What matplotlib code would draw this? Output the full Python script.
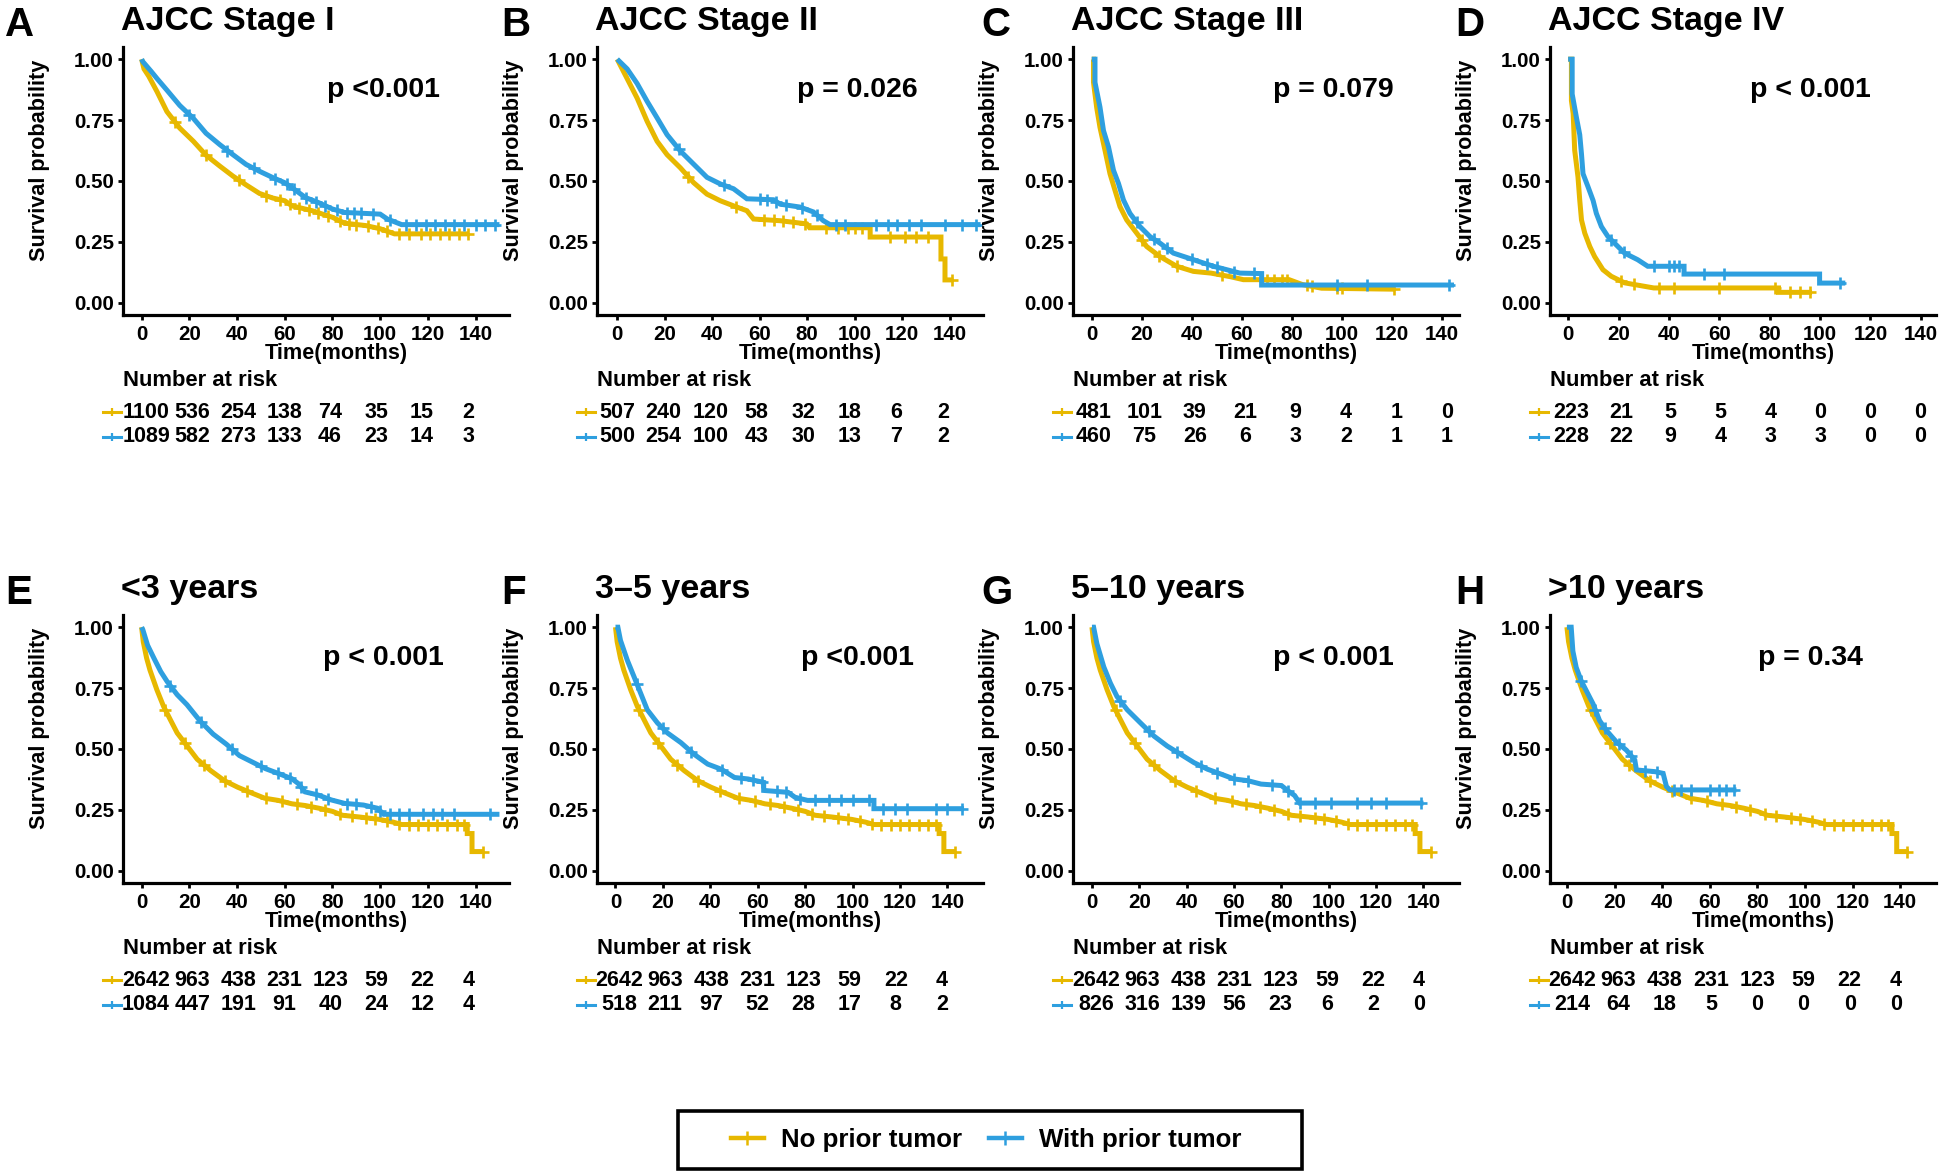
import numpy as np
import matplotlib
matplotlib.use("Agg")
import matplotlib.pyplot as plt
from matplotlib.lines import Line2D
from matplotlib.patches import Rectangle

plt.rcParams['font.family'] = ['Liberation Sans', 'DejaVu Sans']
plt.rcParams['font.weight'] = 'bold'
plt.rcParams['axes.labelweight'] = 'bold'

YELLOW = "#E7B800"
BLUE = "#2E9FDF"

# ---- data (time in months, survival probability) ----
# A: AJCC Stage I
A_t_no = [0, 1, 3, 6.5, 10.6, 16, 21.7, 27, 32.8, 38.3, 43.8, 49.4, 55, 60, 63, 71.5, 80, 85, 94, 100, 106, 137]
A_s_no = [1, 0.96, 0.93, 0.866, 0.785, 0.717, 0.663, 0.606, 0.561, 0.52, 0.484, 0.449, 0.43, 0.419, 0.398, 0.378, 0.351, 0.327, 0.317, 0.304, 0.283, 0.283]
A_c_no = [14, 27, 41, 52, 58, 62, 66, 70, 74, 78, 83, 87, 90, 95, 99, 103, 108, 112, 117, 121, 125, 129, 133, 137]
A_t_pr = [0, 0.5, 4, 6.5, 10.6, 16, 21.7, 27, 32.8, 38.3, 43.8, 49.4, 55, 60, 63, 68.7, 74, 80, 85, 100, 103, 109, 150]
A_s_pr = [1, 0.99, 0.95, 0.92, 0.873, 0.81, 0.757, 0.696, 0.649, 0.608, 0.568, 0.54, 0.514, 0.493, 0.473, 0.432, 0.412, 0.385, 0.371, 0.364, 0.344, 0.321, 0.321]
A_c_pr = [20, 36, 47, 56, 61, 64, 69, 73, 77, 82, 86, 89, 92, 97, 104, 111, 115, 119, 123, 127, 131, 135, 140, 144, 148]

# B: AJCC Stage II
B_t_no = [0, 4.2, 8.4, 12.6, 16.8, 21, 26.6, 32.2, 37.8, 43.4, 49, 54.6, 57.4, 68.6, 79.8, 81, 106.5, 106.5, 136.3, 136.3, 138, 138, 141.5]
B_s_no = [1, 0.92, 0.84, 0.745, 0.663, 0.608, 0.554, 0.493, 0.446, 0.419, 0.398, 0.378, 0.344, 0.337, 0.324, 0.308, 0.308, 0.27, 0.27, 0.18, 0.18, 0.094, 0.094]
B_c_no = [30, 50, 62, 66, 70, 74, 79, 88, 93, 97, 100, 103, 115, 121, 126, 131, 141]
B_t_pr = [0, 4.2, 8.4, 12.6, 16.8, 21, 26.6, 32.2, 37.8, 43.4, 49, 54.6, 65.8, 68.6, 77, 82.6, 86.8, 89.6, 153]
B_s_pr = [1, 0.96, 0.9, 0.827, 0.759, 0.69, 0.623, 0.569, 0.515, 0.488, 0.468, 0.427, 0.423, 0.405, 0.393, 0.373, 0.337, 0.321, 0.321]
B_c_pr = [26, 45, 60, 63, 67, 71, 78, 84, 92, 96, 109, 114, 118, 123, 128, 138, 145, 151]

# C: AJCC Stage III
C_t_no = [0, 0.7, 0.7, 2, 3.3, 5.3, 7.3, 9.3, 11.3, 14, 18, 22, 27.3, 34, 40.7, 47.7, 55.6, 60.7, 66, 79, 84.3, 92, 121]
C_s_no = [1, 1, 0.905, 0.8, 0.72, 0.626, 0.53, 0.462, 0.395, 0.34, 0.286, 0.231, 0.19, 0.15, 0.129, 0.122, 0.107, 0.095, 0.095, 0.095, 0.075, 0.06, 0.056]
C_c_no = [20, 27, 34, 52, 70, 73, 76, 78, 86, 88, 98, 100, 121]
C_t_pr = [0, 1.3, 1.3, 3.3, 4.7, 6.7, 8.7, 10.7, 12.7, 15.3, 19.3, 23.3, 27.3, 32.7, 40.7, 48.7, 59.3, 68, 68, 145]
C_s_pr = [1, 1, 0.905, 0.803, 0.707, 0.64, 0.544, 0.49, 0.422, 0.367, 0.313, 0.272, 0.245, 0.204, 0.177, 0.15, 0.122, 0.12, 0.073, 0.073]
C_c_pr = [18, 25, 30, 40, 46, 50, 57, 65, 98, 110, 143]

# D: AJCC Stage IV
D_t_no = [0, 1.3, 1.3, 2, 2.6, 3.9, 4.6, 5.3, 6.6, 8.6, 10.5, 13.8, 17.1, 22.4, 34, 83.5, 83.5, 96.8]
D_s_no = [1, 1, 0.83, 0.776, 0.626, 0.517, 0.422, 0.34, 0.286, 0.231, 0.19, 0.136, 0.109, 0.082, 0.061, 0.061, 0.043, 0.043]
D_c_no = [21, 26, 36, 42, 60, 82, 88, 92, 96]
D_t_pr = [0, 1.6, 1.6, 3.3, 4.6, 5.3, 5.9, 7.9, 9.9, 11.2, 13.2, 15.8, 18.4, 22.4, 27.6, 31.6, 46, 46, 99.8, 99.8, 110]
D_s_pr = [1, 1, 0.857, 0.76, 0.69, 0.61, 0.53, 0.476, 0.42, 0.367, 0.313, 0.272, 0.245, 0.204, 0.177, 0.15, 0.15, 0.118, 0.118, 0.081, 0.081]
D_c_pr = [17, 22, 34, 40, 42, 44, 54, 62, 108]

# E-H share the same "no prior tumor" group (2642 at risk)
EH_t_no = [0, 0.7, 2.1, 3.5, 6.4, 9.2, 12, 14.9, 19.1, 23.3, 29, 34.7, 40.3, 46, 51.6, 57.3, 63, 68.6, 74.3, 80,
           84.2, 91.2, 99.7, 105.4, 109, 136.5, 136.5, 138.5, 138.5, 143.6]
EH_s_no = [1, 0.94, 0.873, 0.824, 0.743, 0.675, 0.621, 0.566, 0.512, 0.458, 0.411, 0.37, 0.343, 0.32, 0.298, 0.289, 0.275, 0.268, 0.257, 0.244,
           0.228, 0.221, 0.211, 0.2, 0.19, 0.19, 0.153, 0.153, 0.079, 0.079]
EH_c_no = [10, 18, 26, 35, 44, 52, 59, 65, 71, 77, 83, 88, 94, 98, 103, 108, 112, 116, 120, 124, 128, 132, 135, 143]

E_t_pr = [0, 0.5, 2.5, 5.2, 8, 10.7, 14.9, 19, 24.5, 30, 35.5, 41, 46.5, 52, 57.5, 63, 65.7, 68.5, 74, 79.5, 85, 93, 98.8, 101.5, 150]
E_s_pr = [1, 0.99, 0.926, 0.872, 0.818, 0.777, 0.723, 0.682, 0.615, 0.561, 0.52, 0.473, 0.446, 0.419, 0.399, 0.378, 0.358, 0.324, 0.311, 0.291, 0.277, 0.27, 0.257, 0.232, 0.232]
E_c_pr = [12, 25, 38, 50, 57, 62, 67, 73, 78, 86, 90, 96, 100, 104, 108, 112, 118, 122, 126, 131, 146]

F_t_pr = [0, 1, 2.1, 5, 7.8, 10.6, 13.4, 17.7, 21.9, 27.6, 33.2, 38.9, 44.6, 50.2, 55.9, 62.5, 62.5, 72.8, 75.7, 81, 109, 109, 147]
F_s_pr = [1, 1, 0.946, 0.864, 0.797, 0.729, 0.661, 0.607, 0.566, 0.526, 0.478, 0.438, 0.417, 0.383, 0.377, 0.363, 0.33, 0.322, 0.302, 0.289, 0.289, 0.255, 0.255]
F_c_pr = [9, 20, 32, 45, 53, 58, 62, 68, 72, 78, 84, 90, 95, 100, 107, 113, 118, 123, 135, 140, 146]

G_t_pr = [0, 0.7, 2.1, 5, 7.8, 10.6, 14.9, 20.5, 26.2, 31.8, 37.5, 43.1, 48.8, 54.5, 60, 65.8, 71.4, 80, 82.7, 85.6, 87.7, 140]
G_s_pr = [1, 1, 0.932, 0.837, 0.77, 0.715, 0.661, 0.607, 0.553, 0.512, 0.478, 0.444, 0.417, 0.397, 0.377, 0.37, 0.356, 0.35, 0.329, 0.309, 0.278, 0.278]
G_c_pr = [12, 24, 36, 46, 53, 60, 66, 76, 83, 88, 94, 101, 112, 118, 124, 139]

H_t_pr = [0, 1.8, 2.5, 3.9, 6, 8.1, 11, 13.7, 16.5, 20.8, 25, 28.5, 29.2, 37, 40.4, 41.8, 43.2, 71.2]
H_s_pr = [1, 1, 0.902, 0.835, 0.78, 0.74, 0.685, 0.617, 0.577, 0.529, 0.495, 0.455, 0.414, 0.407, 0.4, 0.346, 0.332, 0.332]
H_c_pr = [6, 12, 16, 22, 27, 33, 38, 45, 48, 52, 60, 64, 67, 70]

# number at risk at 0, 20, ..., 140 months
A_risk = ([1100, 536, 254, 138, 74, 35, 15, 2], [1089, 582, 273, 133, 46, 23, 14, 3])
B_risk = ([507, 240, 120, 58, 32, 18, 6, 2], [500, 254, 100, 43, 30, 13, 7, 2])
C_risk = ([481, 101, 39, 21, 9, 4, 1, 0], [460, 75, 26, 6, 3, 2, 1, 1])
D_risk = ([223, 21, 5, 5, 4, 0, 0, 0], [228, 22, 9, 4, 3, 3, 0, 0])
EH_risk_no = [2642, 963, 438, 231, 123, 59, 22, 4]
E_risk_pr = [1084, 447, 191, 91, 40, 24, 12, 4]
F_risk_pr = [518, 211, 97, 52, 28, 17, 8, 2]
G_risk_pr = [826, 316, 139, 56, 23, 6, 2, 0]
H_risk_pr = [214, 64, 18, 5, 0, 0, 0, 0]
risk_times = [0, 20, 40, 60, 80, 100, 120, 140]

letters = ["A", "B", "C", "D", "E", "F", "G", "H"]
titles = ["AJCC Stage I", "AJCC Stage II", "AJCC Stage III", "AJCC Stage IV",
          "<3 years", "3\u20135 years", "5\u201310 years", ">10 years"]
pvals = ["p <0.001", "p = 0.026", "p = 0.079", "p < 0.001",
         "p < 0.001", "p <0.001", "p < 0.001", "p = 0.34"]

panels = [
    (A_t_no, A_s_no, A_c_no, A_t_pr, A_s_pr, A_c_pr, A_risk[0], A_risk[1]),
    (B_t_no, B_s_no, B_c_no, B_t_pr, B_s_pr, B_c_pr, B_risk[0], B_risk[1]),
    (C_t_no, C_s_no, C_c_no, C_t_pr, C_s_pr, C_c_pr, C_risk[0], C_risk[1]),
    (D_t_no, D_s_no, D_c_no, D_t_pr, D_s_pr, D_c_pr, D_risk[0], D_risk[1]),
    (EH_t_no, EH_s_no, EH_c_no, E_t_pr, E_s_pr, E_c_pr, EH_risk_no, E_risk_pr),
    (EH_t_no, EH_s_no, EH_c_no, F_t_pr, F_s_pr, F_c_pr, EH_risk_no, F_risk_pr),
    (EH_t_no, EH_s_no, EH_c_no, G_t_pr, G_s_pr, G_c_pr, EH_risk_no, G_risk_pr),
    (EH_t_no, EH_s_no, EH_c_no, H_t_pr, H_s_pr, H_c_pr, EH_risk_no, H_risk_pr),
]

# ---- layout (pixels of a 1946x1174 canvas) ----
W, H = 1946, 1174
col_left = [123, 597, 1073, 1550]
row_top = [47, 615]
letter_x = [5, 501, 981, 1455]
AX_W, AX_H = 386, 268
xlims = [(-7.8, 154), (-8.5, 154), (-7.5, 147), (-7.2, 146),
         (-7.8, 154), (-7.8, 155), (-8, 155), (-7.1, 155)]
risk_xlims = [(-10, 157.8), (-8.6, 157.2), (-8.3, 144.8), (-8.4, 146.4),
              (-10, 157.5), (-9.5, 157.8), (-10, 157.3), (-9.5, 157.3)]


def fx(px):
    return px / W


def fy(py):
    return 1 - py / H


fig = plt.figure(figsize=(W / 100, H / 100), dpi=100)

for i, (t_no, s_no, c_no, t_pr, s_pr, c_pr, r_no, r_pr) in enumerate(panels):
    left = col_left[i % 4]
    top = row_top[i // 4]
    ax = fig.add_axes([fx(left), fy(top + AX_H), AX_W / W, AX_H / H])

    for t, s, c, col in [(t_no, s_no, c_no, YELLOW), (t_pr, s_pr, c_pr, BLUE)]:
        ax.plot(t, s, color=col, lw=3.6, solid_joinstyle="miter", solid_capstyle="butt")
        ax.plot(c, np.interp(c, t, s), ls="none", marker="+", ms=8.5, mew=1.9, color=col)

    ax.set_xlim(*xlims[i])
    ax.set_ylim(-0.05, 1.05)
    ax.set_xticks(risk_times)
    ax.set_yticks([0, 0.25, 0.5, 0.75, 1.0])
    ax.set_yticklabels(["0.00", "0.25", "0.50", "0.75", "1.00"])
    for side in ["top", "right"]:
        ax.spines[side].set_visible(False)
    for side in ["left", "bottom"]:
        ax.spines[side].set_linewidth(2.3)
    ax.tick_params(length=3.5, width=2, labelsize=14.8, pad=3)
    ax.tick_params(axis="x", pad=4)
    ax.set_ylabel("Survival probability", fontsize=15.6)
    ax.yaxis.set_label_coords(-0.188, 0.578)
    ax.set_xlabel("Time(months)", fontsize=15.6)
    ax.xaxis.set_label_coords(0.552, -0.143)
    ax.xaxis.label.set_va("center")
    ax.text(0.675, 0.84, pvals[i], transform=ax.transAxes, ha="center", va="center", fontsize=20.5)

    fig.text(fx(letter_x[i % 4]), fy(top - 11), letters[i], ha="left", va="baseline", fontsize=29)
    fig.text(fx(left - 2), fy(top - 17), titles[i], ha="left", va="baseline", fontsize=24.5)

    # number at risk table
    axr = fig.add_axes([fx(left), fy(top + 403), AX_W / W, 90 / H])
    axr.set_xlim(*risk_xlims[i])
    axr.set_ylim(0, 1)
    axr.axis("off")
    axr.text(0, 0.775, "Number at risk", transform=axr.transAxes, ha="left", va="center", fontsize=15.8)
    for yrow, counts, col in [(0.42, r_no, YELLOW), (0.145, r_pr, BLUE)]:
        for tt, n in zip(risk_times, counts):
            axr.text(tt, yrow, str(n), ha="center", va="center", fontsize=15.5)
        ypx = top + 403 - yrow * 90
        fig.add_artist(Line2D([fx(left - 20), fx(left - 2)], [fy(ypx), fy(ypx)],
                              color=col, lw=2.2, transform=fig.transFigure))
        fig.add_artist(Line2D([fx(left - 11)], [fy(ypx)], marker="|", ms=6, mew=1.6,
                              color=col, transform=fig.transFigure))

# legend at the bottom
fig.add_artist(Rectangle((fx(678), fy(1169)), fx(1302) - fx(678), fy(1111) - fy(1169),
                         transform=fig.transFigure, fill=False, edgecolor="black", lw=2.6))
handles = [Line2D([0], [0], color=YELLOW, lw=3.2, marker="+", ms=10, mew=1.8),
           Line2D([0], [0], color=BLUE, lw=3.2, marker="+", ms=10, mew=1.8)]
fig.legend(handles, ["No prior tumor", "With prior tumor"], loc="center",
           bbox_to_anchor=(fx(986), fy(1140)), ncol=2, frameon=False, fontsize=18.6,
           handlelength=1.28, handletextpad=0.66, columnspacing=1.05)

fig.savefig("out.png", dpi=100, facecolor="white")
